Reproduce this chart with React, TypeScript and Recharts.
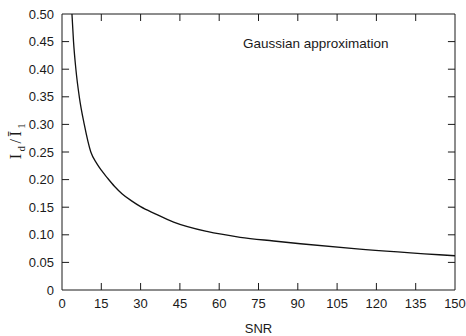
import { LineChart, Line, XAxis, YAxis, Label, ReferenceLine } from "recharts";

// values
const snr = [3.8, 4.4, 5.3, 6.6, 8.5, 11, 13.3, 15, 17.5, 20, 23, 26.7, 30, 35.6, 42.6, 55.3, 68, 80.8, 91, 112.6, 150];
const ratio = [0.5, 0.45, 0.4, 0.35, 0.3, 0.25, 0.229, 0.217, 0.202, 0.188, 0.174, 0.161, 0.151, 0.138, 0.123, 0.106, 0.0955, 0.0888, 0.0838, 0.0745, 0.062];

const xTicks = [0, 15, 30, 45, 60, 75, 90, 105, 120, 135, 150];
const yTicks = [0, 0.05, 0.1, 0.15, 0.2, 0.25, 0.3, 0.35, 0.4, 0.45, 0.5];

const data = snr.map((s, i) => ({ snr: s, ratio: ratio[i] }));

const X_MAX = 150;
const Y_MAX = 0.5;
// inward tick length, in axis units (about 7px each way)
const X_TICK_LEN = 2.7;
const Y_TICK_LEN = 0.0127;

const FONT = "'Liberation Sans', Arial, sans-serif";
const INK = "#1a1a1a";

function formatY(v: number) {
  return v === 0 ? "0" : v.toFixed(2);
}

export default function App() {
  const tickStyle = { fontSize: 13, fill: INK, fontFamily: FONT };
  const inner = (t: number[], max: number) => t.filter((v) => v !== 0 && v !== max);

  return (
    <div
      style={{
        position: "absolute",
        left: 0,
        top: 0,
        width: 466,
        height: 336,
        background: "#fff",
      }}
    >
      <LineChart
        width={466}
        height={336}
        data={data}
        margin={{ top: 14, right: 11, bottom: 0, left: 0 }}
      >
        <XAxis
          dataKey="snr"
          type="number"
          domain={[0, X_MAX]}
          allowDataOverflow
          ticks={xTicks}
          interval={0}
          height={46}
          tickLine={false}
          tickSize={0}
          tickMargin={9}
          stroke={INK}
          tick={tickStyle}
        >
          <Label
            value="SNR"
            position="insideBottom"
            offset={3}
            style={{ fontSize: 13, fill: INK, fontFamily: FONT }}
          />
        </XAxis>
        <YAxis
          type="number"
          domain={[0, Y_MAX]}
          allowDataOverflow
          ticks={yTicks}
          interval={0}
          width={62}
          tickLine={false}
          tickSize={0}
          tickMargin={8}
          tickFormatter={formatY}
          stroke={INK}
          tick={tickStyle}
        />

        {/* box frame */}
        <ReferenceLine y={Y_MAX} stroke={INK} />
        <ReferenceLine x={X_MAX} stroke={INK} />

        {/* inward ticks on all four sides */}
        {inner(xTicks, X_MAX).map((t) => (
          <ReferenceLine
            key={"xb" + t}
            segment={[
              { x: t, y: 0 },
              { x: t, y: Y_TICK_LEN },
            ]}
            stroke={INK}
          />
        ))}
        {inner(xTicks, X_MAX).map((t) => (
          <ReferenceLine
            key={"xt" + t}
            segment={[
              { x: t, y: Y_MAX },
              { x: t, y: Y_MAX - Y_TICK_LEN },
            ]}
            stroke={INK}
          />
        ))}
        {inner(yTicks, Y_MAX).map((t) => (
          <ReferenceLine
            key={"yl" + t}
            segment={[
              { x: 0, y: t },
              { x: X_TICK_LEN, y: t },
            ]}
            stroke={INK}
          />
        ))}
        {inner(yTicks, Y_MAX).map((t) => (
          <ReferenceLine
            key={"yr" + t}
            segment={[
              { x: X_MAX, y: t },
              { x: X_MAX - X_TICK_LEN, y: t },
            ]}
            stroke={INK}
          />
        ))}

        <Line
          dataKey="ratio"
          type="monotone"
          stroke="#111"
          strokeWidth={1.3}
          dot={false}
          isAnimationActive={false}
        />
      </LineChart>

      <div
        style={{
          position: "absolute",
          left: 243,
          top: 36,
          fontFamily: FONT,
          fontSize: 13.5,
          color: INK,
          whiteSpace: "nowrap",
        }}
      >
        Gaussian approximation
      </div>

      <div
        style={{
          position: "absolute",
          left: 17,
          top: 140,
          transform: "translate(-50%, -50%) rotate(-90deg)",
          fontFamily: "'Liberation Serif', 'Times New Roman', serif",
          fontSize: 16,
          color: INK,
          whiteSpace: "nowrap",
          letterSpacing: 2.5,
        }}
      >
        I<sub style={{ fontSize: 11 }}>d</sub>/Ī<sub style={{ fontSize: 11 }}>1</sub>
      </div>
    </div>
  );
}
